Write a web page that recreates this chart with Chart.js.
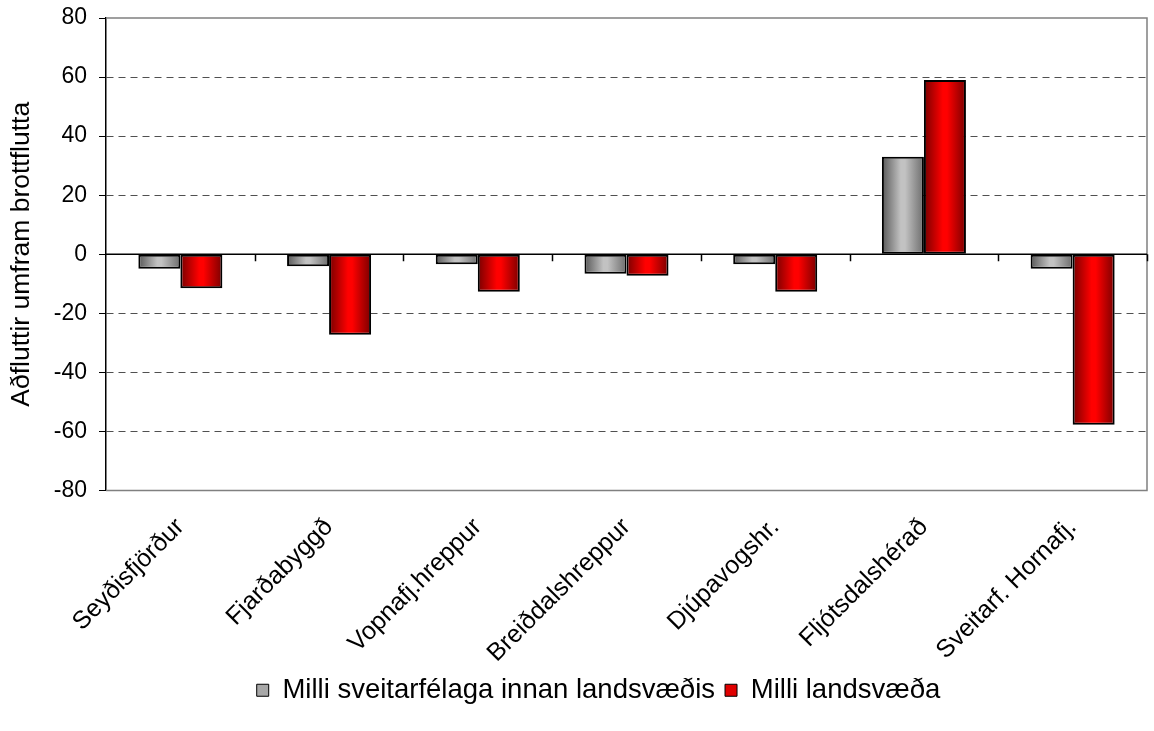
<!DOCTYPE html>
<html>
<head>
<meta charset="utf-8">
<script src="https://cdn.jsdelivr.net/npm/chart.js@4"></script>
<style>
    body { margin: 0; background: #fff; }
    #wrap { width: 1154px; height: 731px; }
</style>
</head>
<body>
<div id="wrap"><canvas id="migrationChart" width="1154" height="731"></canvas></div>
<script>
const categories = ['Seyðisfjörður', 'Fjarðabyggð', 'Vopnafj.hreppur', 'Breiðdalshreppur', 'Djúpavogshr.', 'Fljótsdalshérað', 'Sveitarf. Hornafj.'];
const withinRegion = [-4.9, -4.1, -3.4, -6.6, -3.4, 33, -4.9];
const betweenRegions = [-11.5, -27.3, -12.7, -7.3, -12.7, 59, -57.7];
const seriesNames = ['Milli sveitarfélaga innan landsvæðis', 'Milli landsvæða'];
const yTicks = [-80, -60, -40, -20, 0, 20, 40, 60, 80];

const catPct = 0.565;
const fontFamily = '"Liberation Sans", Arial, sans-serif';

// horizontal shading like the old excel 3d-ish bars
function barFill(ctx, dark, light, darkRight) {
    const chart = ctx.chart;
    const xs = chart.scales.x;
    if (ctx.dataIndex === undefined || !xs || !xs.width) return light;
    const cw = xs.width / categories.length;
    const bw = cw * catPct / 2;
    const cx = xs.getPixelForValue(ctx.dataIndex);
    const x0 = ctx.datasetIndex === 0 ? cx - bw : cx;
    const g = chart.ctx.createLinearGradient(x0, 0, x0 + bw, 0);
    g.addColorStop(0, dark);
    g.addColorStop(0.45, light);
    g.addColorStop(0.55, light);
    g.addColorStop(1, darkRight);
    return g;
}

// plot frame, zero line and the little category ticks on it
const framePlugin = {
    id: 'frame',
    afterLayout(chart) {
        // legend sits a bit right of centre in the original
        chart.legend.left += 25;
        chart.legend.right += 25;
    },
    beforeDatasetsDraw(chart) {
        const { ctx, chartArea: a } = chart;
        ctx.save();
        ctx.strokeStyle = '#808080';
        ctx.lineWidth = 1.5;
        ctx.beginPath();
        ctx.moveTo(a.left, a.top);
        ctx.lineTo(a.right, a.top);
        ctx.lineTo(a.right, a.bottom);
        ctx.lineTo(a.left, a.bottom);
        ctx.stroke();
        ctx.restore();
    },
    afterDatasetsDraw(chart) {
        const { ctx, chartArea: a, scales } = chart;
        const y0 = scales.y.getPixelForValue(0);
        const cw = scales.x.width / categories.length;
        ctx.save();
        ctx.strokeStyle = '#000';
        ctx.lineWidth = 1.5;
        ctx.beginPath();
        ctx.moveTo(a.left, y0);
        ctx.lineTo(a.right, y0);
        for (let i = 1; i <= categories.length; i++) {
            const x = Math.round(scales.x.left + i * cw) + 0.5;
            ctx.moveTo(x, y0);
            ctx.lineTo(x, y0 + 7);
        }
        ctx.stroke();
        ctx.restore();
    }
};

const ctx = document.getElementById('migrationChart').getContext('2d');
const chart = new Chart(ctx, {
    type: 'bar',
    data: {
        labels: categories,
        datasets: [{
            label: seriesNames[0],
            data: withinRegion,
            backgroundColor: (c) => barFill(c, '#585858', '#c2c2c2', '#6c6c6c'),
            borderColor: '#000',
            borderWidth: 2,
            borderSkipped: false,
        }, {
            label: seriesNames[1],
            data: betweenRegions,
            backgroundColor: (c) => barFill(c, '#780000', '#ff0000', '#7a0000'),
            borderColor: '#000',
            borderWidth: 2,
            borderSkipped: false,
        }],
    },
    options: {
        responsive: false,
        animation: false,
        categoryPercentage: catPct,
        barPercentage: 1,
        layout: { padding: { top: 18, right: 7, bottom: 17, left: 0 } },
        plugins: {
            tooltip: { enabled: false },
            legend: {
                position: 'bottom',
                labels: {
                    font: { family: fontFamily, size: 27.5 },
                    color: '#000',
                    boxWidth: 12,
                    boxHeight: 12,
                    padding: 10,
                    generateLabels: () => [
                        { text: seriesNames[0], fillStyle: '#a8a8a8', strokeStyle: '#000', lineWidth: 1, datasetIndex: 0 },
                        { text: seriesNames[1], fillStyle: '#e00000', strokeStyle: '#000', lineWidth: 1, datasetIndex: 1 },
                    ],
                },
            },
        },
        scales: {
            x: {
                grid: { display: false },
                border: { display: false },
                ticks: {
                    font: { family: fontFamily, size: 25 },
                    color: '#000',
                    minRotation: 45,
                    maxRotation: 45,
                    padding: 14,
                },
                afterFit: (s) => { s.height = 176; },
            },
            y: {
                min: -80,
                max: 80,
                afterBuildTicks: (s) => { s.ticks = yTicks.map(v => ({ value: v })); },
                grid: {
                    color: (c) => (c.tick && (c.tick.value === 0 || Math.abs(c.tick.value) === 80)) ? 'rgba(0,0,0,0)' : '#505050',
                    lineWidth: 1,
                    tickColor: '#000',
                    tickLength: 7,
                },
                border: { display: true, color: '#000', width: 1.5, dash: [7, 5] },
                ticks: {
                    font: { family: fontFamily, size: 23 },
                    color: '#000',
                    padding: 12,
                },
                title: {
                    display: true,
                    text: 'Aðfluttir umfram brottflutta',
                    font: { family: fontFamily, size: 26.5 },
                    color: '#000',
                    padding: { top: 6, bottom: 0 },
                },
                afterFit: (s) => {
                    s.width = 106;
                    s.paddingTop = 0;
                    s.paddingBottom = 0;
                },
            },
        },
    },
    plugins: [framePlugin],
});
</script>
</body>
</html>
